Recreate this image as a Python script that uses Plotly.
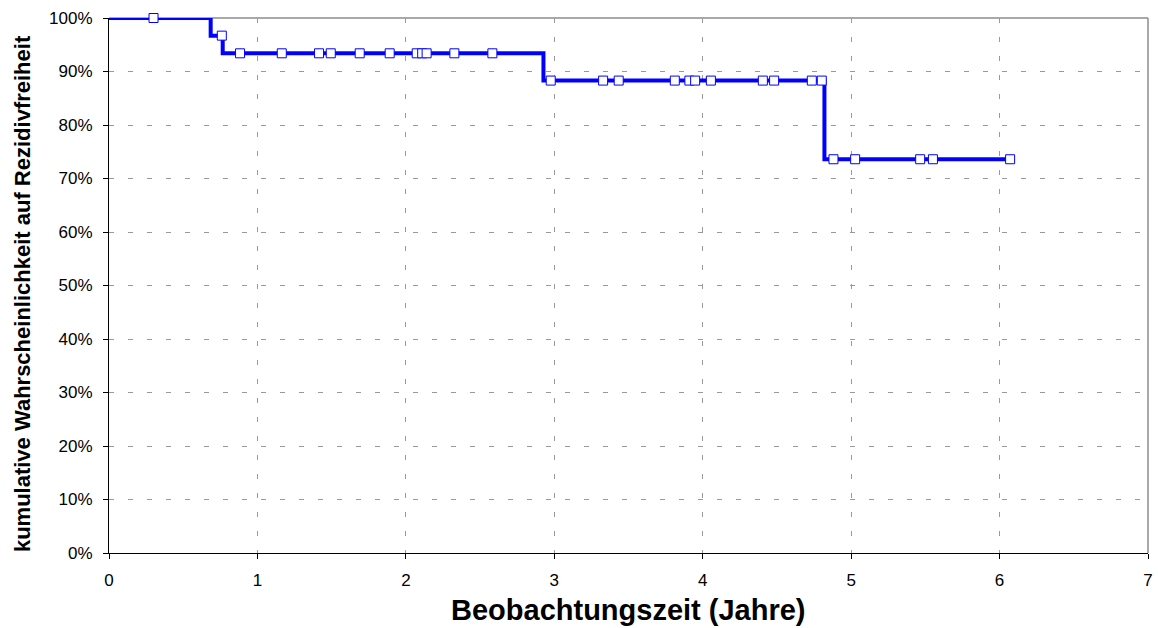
import plotly.graph_objects as go

# Kaplan-Meier estimate: step curve (event times and survival after each event)
step_times = [0.0, 0.685, 0.766, 2.927, 4.82]
step_surv = [1.000, 0.967, 0.934, 0.883, 0.736]
end_time = 6.071

# Censored observations (time, survival level at that time)
cens_times = [0.30, 0.76,
              0.883, 1.164, 1.415, 1.494, 1.689, 1.891, 2.073, 2.11, 2.14, 2.327, 2.583,
              2.976, 3.329, 3.434, 3.812, 3.910, 3.949, 4.055, 4.405, 4.481, 4.735, 4.802,
              4.881, 5.027, 5.465, 5.551, 6.071]
cens_surv = [1.000, 0.967,
             0.934, 0.934, 0.934, 0.934, 0.934, 0.934, 0.934, 0.934, 0.934, 0.934, 0.934,
             0.883, 0.883, 0.883, 0.883, 0.883, 0.883, 0.883, 0.883, 0.883, 0.883, 0.883,
             0.736, 0.736, 0.736, 0.736, 0.736]

x_ticks = [0, 1, 2, 3, 4, 5, 6, 7]
y_ticks = [i / 10 for i in range(11)]
y_tick_labels = [f"{i * 10}%" for i in range(11)]

line_x = step_times + [end_time]
line_y = step_surv + [step_surv[-1]]

fig = go.Figure()
fig.add_trace(go.Scatter(
    x=line_x, y=line_y, mode="lines", line_shape="hv", cliponaxis=False,
    line=dict(color="#0000FF", width=4), hoverinfo="skip", showlegend=False,
))
fig.add_trace(go.Scatter(
    x=cens_times, y=cens_surv, mode="markers", cliponaxis=False,
    marker=dict(symbol="square", size=9, color="white",
                line=dict(color="#0000FF", width=1)),
    showlegend=False,
))

font = "Liberation Sans, Arial, sans-serif"
grid = dict(showgrid=True, gridcolor="#9a9a9a", griddash="5px,14px", gridwidth=1,
            zeroline=False, ticks="outside", ticklen=5, tickcolor="black",
            showline=True, linecolor="black", linewidth=1, tickfont=dict(size=17))
fig.update_layout(
    width=1158, height=628,
    margin=dict(l=109, r=5, t=18, b=75),
    paper_bgcolor="white", plot_bgcolor="white",
    font=dict(family=font, size=17, color="black"),
    xaxis=dict(range=[0, 7], tickvals=x_ticks, ticklabelstandoff=7, **grid),
    yaxis=dict(range=[0, 1], tickvals=y_ticks, ticktext=y_tick_labels,
               ticklabelstandoff=7, **grid),
    shapes=[
        dict(type="line", xref="paper", yref="paper", x0=0, x1=1, y0=1, y1=1,
             line=dict(color="#8c8c8c", width=1.5), layer="below"),
        dict(type="line", xref="paper", yref="paper", x0=1, x1=1, y0=0, y1=1,
             line=dict(color="#8c8c8c", width=1.5), layer="below"),
    ],
    annotations=[
        dict(text="<b>Beobachtungszeit (Jahre)</b>", xref="paper", yref="paper",
             x=0.5, y=-0.107, xanchor="center", yanchor="middle",
             showarrow=False, font=dict(size=29)),
        dict(text="<b>kumulative Wahrscheinlichkeit auf Rezidivfreiheit</b>",
             xref="paper", yref="paper", x=-0.0837, y=0.484, textangle=-90,
             xanchor="center", yanchor="middle", showarrow=False,
             font=dict(size=22)),
    ],
)

fig.write_html("out.html")
